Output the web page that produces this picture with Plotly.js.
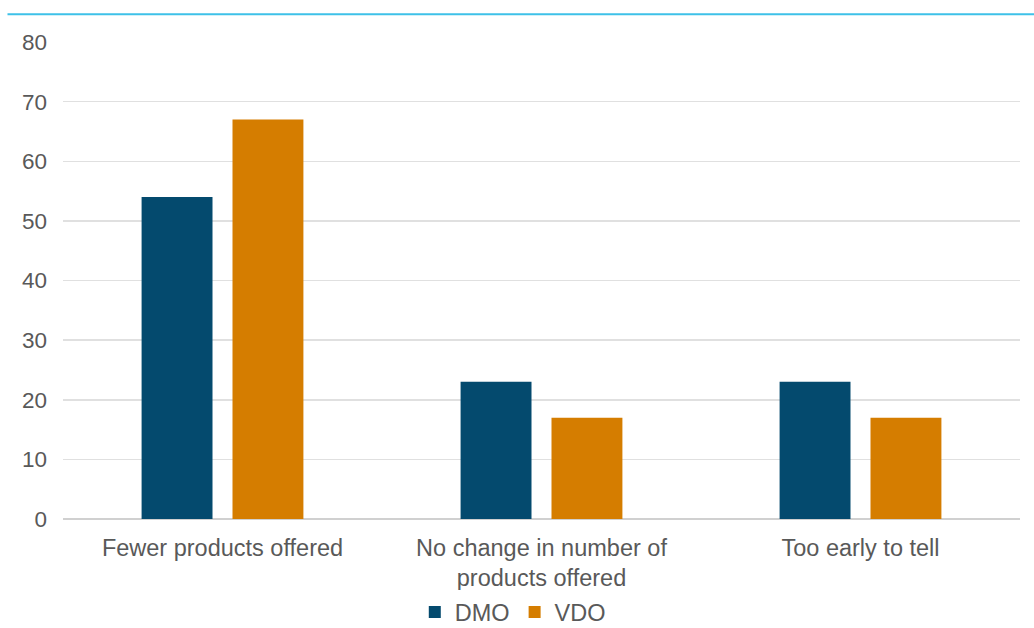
<!DOCTYPE html>
<html>
<head>
<meta charset="utf-8">
<script src="https://cdn.plot.ly/plotly-3.0.1.min.js"></script>
<style>html,body{margin:0;padding:0;background:#fff;}#chart{width:1034px;height:628px;}</style>
</head>
<body>
<div id="chart"></div>
<script>
var categories = ["Fewer products offered", "No change in number of<br>products offered", "Too early to tell"];
var dmoValues = [54, 23, 23];
var vdoValues = [67, 17, 17];
var yTicks = [0, 10, 20, 30, 40, 50, 60, 70, 80];

var font = "Liberation Sans, Arial, sans-serif";
var traces = [
  {type: "bar", name: "DMO", x: categories, y: dmoValues, marker: {color: "#044a6e"}, hoverinfo: "y"},
  {type: "bar", name: "VDO", x: categories, y: vdoValues, marker: {color: "#d57d00"}, hoverinfo: "y"}
];
var layout = {
  width: 1034, height: 628,
  margin: {l: 63, r: 14, t: 42, b: 109, autoexpand: false},
  paper_bgcolor: "#fff", plot_bgcolor: "#fff",
  barmode: "group", bargap: 0.43, bargroupgap: 0.22,
  font: {family: font, size: 23, color: "#595959"},
  xaxis: {type: "category", showgrid: false, zeroline: false, showline: false, ticks: "", ticklabelstandoff: 12, tickfont: {size: 23.5, color: "#595959"}},
  yaxis: {range: [0, 80], tickvals: yTicks, showgrid: true, gridcolor: "#e0e0e0", gridwidth: 1.5, zeroline: true, zerolinecolor: "#d0d0d0", zerolinewidth: 2, showline: false, ticks: "", ticklabelstandoff: 15, tickfont: {size: 22.5, color: "#595959"}},
  showlegend: true,
  legend: {orientation: "h", x: 0.47, xanchor: "center", yref: "container", y: 0.025, yanchor: "middle", font: {size: 23.5, color: "#595959"}, itemwidth: 30, traceorder: "normal"},
  shapes: [{type: "line", xref: "paper", yref: "paper", x0: -0.058, x1: 1.02, y0: 1.058, y1: 1.058, line: {color: "#3ec1e8", width: 2}}]
};
Plotly.newPlot("chart", traces, layout, {displayModeBar: false, staticPlot: true});
</script>
</body>
</html>
